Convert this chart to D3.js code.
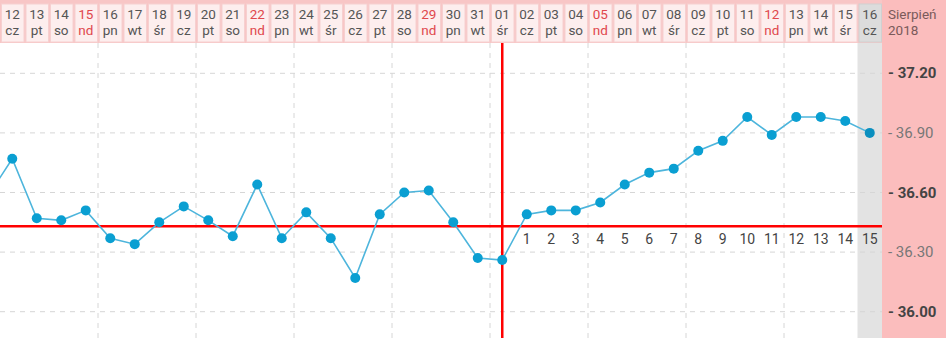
<!DOCTYPE html>
<html>
<head>
<meta charset="utf-8">
<script src="https://cdn.jsdelivr.net/npm/d3@7.9.0/dist/d3.min.js"></script>
<style>
  html, body { margin: 0; padding: 0; background: #fff; }
  svg { display: block; font-family: Roboto, "Noto Sans", sans-serif; }
</style>
</head>
<body>
<svg id="chart" width="946" height="338"></svg>
<script>
const days = ['12','13','14','15','16','17','18','19','20','21','22','23','24','25','26','27','28','29','30','31',
  '01','02','03','04','05','06','07','08','09','10','11','12b','13b','14b','15b','16b'];
const weekdays = ['cz','pt','so','nd','pn','wt','śr','cz','pt','so','nd','pn','wt','śr','cz','pt','so','nd','pn','wt',
  'śr','cz','pt','so','nd','pn','wt','śr','cz','pt','so','nd','pn','wt','śr','cz'];
const temps = [36.77, 36.47, 36.46, 36.51, 36.37, 36.34, 36.45, 36.53, 36.46, 36.38, 36.64, 36.37, 36.50,
  36.37, 36.17, 36.49, 36.60, 36.61, 36.45, 36.27, 36.26,
  36.49, 36.51, 36.51, 36.55, 36.64, 36.70, 36.72, 36.81, 36.86, 36.98, 36.89, 36.98, 36.98, 36.96, 36.90];
const prevTemp = 36.58; // 11 lipca, poza kadrem
const coverline = 36.43;
const ovulationDay = '01';
const phaseDays = ['02','03','04','05','06','07','08','09','10','11','12b','13b','14b','15b','16b'];
const phaseLabels = ['1','2','3','4','5','6','7','8','9','10','11','12','13','14','15'];
const todayDay = '16b';
const yTicks = [37.20, 36.90, 36.60, 36.30, 36.00];
const boldTicks = [37.20, 36.60, 36.00];
const gridEvery = 4;
const monthLabel = ['Sierpień', '2018'];

const W = 946, H = 338, plotRight = 882, headerBottom = 43;
const svg = d3.select('#chart');
const label = d => d.replace('b', '');

const x = d3.scaleBand().domain(days).range([0, plotRight]).padding(0);
const y = d3.scaleLinear().domain([36.0, 37.2]).range([311.7, 73.3]);
const bw = x.bandwidth();
const cx = d => x(d) + bw / 2;

// right panel + header strip
svg.append('rect').attr('x', plotRight).attr('y', 0).attr('width', W - plotRight).attr('height', H).attr('fill', '#fbbdbd');
svg.append('rect').attr('x', 0).attr('y', 0).attr('width', plotRight).attr('height', headerBottom).attr('fill', '#f8c6c6');

// today column
svg.append('rect').attr('x', x(todayDay)).attr('y', headerBottom).attr('width', bw).attr('height', H - headerBottom).attr('fill', '#e3e3e3');

// grid
const grid = svg.append('g').attr('stroke', '#d6d6d6').attr('stroke-dasharray', '5,5').attr('stroke-width', 1);
grid.selectAll('line.h').data(yTicks).join('line')
  .attr('x1', 0).attr('x2', plotRight).attr('y1', d => y(d)).attr('y2', d => y(d));
grid.selectAll('line.v').data(days.filter((d, i) => i > 0 && (i + 1) % gridEvery === 0 && i < days.length - 1)).join('line')
  .attr('x1', d => x(d) + bw).attr('x2', d => x(d) + bw).attr('y1', headerBottom).attr('y2', H);

// header cells
const head = svg.append('g').selectAll('g').data(days).join('g');
head.append('rect')
  .attr('x', d => x(d) + 1.5).attr('y', 4).attr('width', bw - 2).attr('height', headerBottom - 5)
  .attr('fill', d => d === todayDay ? '#dcdcdc' : '#fdeeee')
  .attr('stroke', d => d === todayDay ? '#d0d0d0' : '#f6d0d0');
head.append('text').attr('x', d => cx(d)).attr('y', 19).attr('text-anchor', 'middle')
  .attr('font-size', 13.5)
  .attr('fill', (d, i) => weekdays[i] === 'nd' ? '#e0474c' : '#555')
  .text(d => label(d));
head.append('text').attr('x', d => cx(d)).attr('y', 35).attr('text-anchor', 'middle')
  .attr('font-size', 13.5)
  .attr('fill', (d, i) => weekdays[i] === 'nd' ? '#e0474c' : '#555')
  .text((d, i) => weekdays[i]);

// month label
svg.append('g').selectAll('text').data(monthLabel).join('text')
  .attr('x', 888).attr('y', (d, i) => 19 + i * 16).attr('font-size', 13.5).attr('fill', '#7a5a5a').text(d => d);

// temperature labels
svg.append('g').selectAll('text').data(yTicks).join('text')
  .attr('x', 888).attr('y', d => y(d) + 5).attr('font-size', 15)
  .attr('font-weight', d => boldTicks.includes(d) ? 'bold' : 'normal')
  .attr('fill', d => boldTicks.includes(d) ? '#444' : '#777')
  .text(d => '- ' + d.toFixed(2));

// coverline + ovulation line
svg.append('line').attr('x1', 0).attr('x2', plotRight).attr('y1', y(coverline)).attr('y2', y(coverline))
  .attr('stroke', '#ff0000').attr('stroke-width', 2.5);
svg.append('line').attr('x1', cx(ovulationDay)).attr('x2', cx(ovulationDay)).attr('y1', headerBottom).attr('y2', H)
  .attr('stroke', '#ff0000').attr('stroke-width', 2.5);

// phase numbers
svg.append('g').selectAll('text').data(phaseDays).join('text')
  .attr('x', d => cx(d)).attr('y', 244).attr('text-anchor', 'middle').attr('font-size', 14)
  .attr('fill', '#444').text((d, i) => phaseLabels[i]);

// temperature line
const pts = [[cx(days[0]) - bw, y(prevTemp)]].concat(days.map((d, i) => [cx(d), y(temps[i])]));
svg.append('path').attr('d', d3.line()(pts)).attr('fill', 'none').attr('stroke', '#4db5dc').attr('stroke-width', 1.6);
svg.append('g').selectAll('circle').data(days).join('circle')
  .attr('cx', d => cx(d)).attr('cy', (d, i) => y(temps[i])).attr('r', 5)
  .attr('fill', d => d === todayDay ? '#0a8fbf' : '#0a9fd2');
</script>
</body>
</html>
